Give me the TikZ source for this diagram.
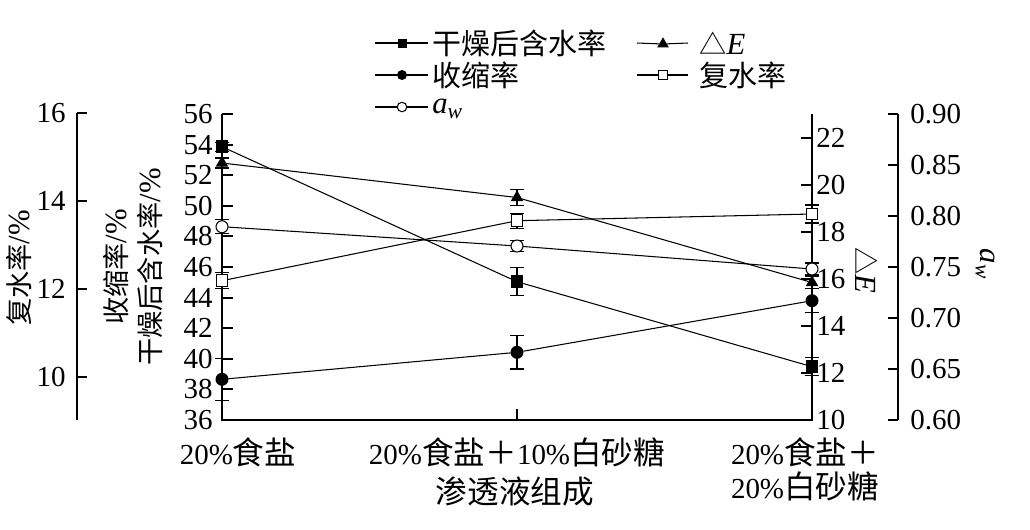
\documentclass[tikz,border=0pt]{standalone}
\usepackage{fontspec}
\setmainfont{Liberation Serif}
\newfontfamily\cjk{Noto Sans CJK SC}
\usetikzlibrary{shapes.geometric}
\newcommand\zh[1]{{\cjk #1}}
\newcommand\zhs[1]{{\cjk\fontsize{15.5}{19}\selectfont #1}}
\newcommand\zhb[1]{{\cjk\fontsize{18}{20}\selectfont #1}}

\begin{document}
\begin{tikzpicture}[x=0.02cm,y=-0.02cm,
    ax/.style={line width=1.1pt},
    dline/.style={line width=0.6pt},
    ebar/.style={line width=0.6pt},
    mk/.style={inner sep=0pt,outer sep=0pt},
    fsq/.style={mk,rectangle,fill=black,minimum size=0.25cm},
    osq/.style={mk,rectangle,draw,fill=white,line width=0.6pt,minimum size=0.23cm},
    fci/.style={mk,circle,fill=black,minimum size=0.26cm},
    oci/.style={mk,circle,draw,fill=white,line width=0.6pt,minimum size=0.24cm},
    ftri/.style={mk,regular polygon,regular polygon sides=3,fill=black,minimum size=0.29cm},
    tick/.style={inner sep=0pt,font=\fontsize{16.5}{19.5}\selectfont},
    lab/.style={inner sep=0pt,font=\fontsize{16.5}{19.3}\selectfont},
    ttl/.style={inner sep=0pt,font=\fontsize{17.5}{19.3}\selectfont}]
  \useasboundingbox (0,0) rectangle (1030,529);

  % axes
  \draw[ax] (77,113) -- (77,420);
  \draw[ax] (222,114) -- (222,420) -- (812,420) -- (812,114);
  \draw[ax] (517,420) -- ++(0,-11);
  \draw[ax] (898,114) -- (898,420);
  \foreach \v in {10,12,14,16} {
    \draw[ax] (77,{377-(\v-10)*44}) -- ++(10,0);
    \node[tick,anchor=east] (yr\v) at (66,{377-(\v-10)*44}) {\v};}
  \foreach \v in {36,38,...,56} {
    \draw[ax] (222,{420-(\v-36)*15.3}) -- ++(11,0);
    \node[tick,anchor=east] (ym\v) at (213,{420-(\v-36)*15.3}) {\v};}
  \foreach \v in {10,12,...,22} {
    \draw[ax] (812,{420-(\v-10)*23.5}) -- ++(-11,0);
    \node[tick,anchor=west] (ye\v) at (816,{420-(\v-10)*23.5}) {\v};}
  \foreach \v [count=\i] in {0.60,0.65,0.70,0.75,0.80,0.85,0.90} {
    \draw[ax] (898,{420-(\v-0.6)*1020}) -- ++(-10,0);
    \node[tick,anchor=west] (yw\i) at (910,{420-(\v-0.6)*1020}) {\v};}

  % axis titles
  \node[ttl,rotate=90] (tr) at (19,268) {\zhs{复水率}/\%};
  \node[ttl,rotate=90,align=center] (tm) at (133,267)
       {\zhs{收缩率}/\%\\\zhs{干燥后含水率}/\%};
  \node[ttl,rotate=-90] (te) at (867,270) {\zhs{△}\textit{E}};
  \node[ttl,rotate=-90] (tw) at (985,264) {\textit{a}\textsubscript{\textit{w}}};
  \node[tick] (c1) at (238,452) {20\%\zhb{食盐}};
  \node[tick] (c2) at (517,452) {20\%\zhb{食盐＋}10\%\zhb{白砂糖}};
  \node[tick,align=center] (c3) at (805,469) {20\%\zhb{食盐＋}\\20\%\zhb{白砂糖}};
  \node[lab] (cx) at (515,492) {\zhb{渗透液组成}};

  % points and error bars
  \foreach \n/\px/\py/\e in {pw1/222/146.7/4.5, pw2/517/281.7/14, pw3/812/366.7/9,
      ps1/222/379.3/21, ps2/517/352.3/16.7, ps3/812/300.7/12,
      pd1/222/163/5, pd2/517/197.5/8, pd3/812/282.5/6,
      pr1/222/280.7/8, pr2/517/220.7/7.5, pr3/812/214/9,
      pa1/222/226.7/7, pa2/517/246/5.5, pa3/812/269/6} {
    \coordinate (\n) at (\px,\py);
    \draw[ebar] (\n) ++(-7,-\e) -- ++(14,0) ++(-7,0) -- ++(0,{2*\e}) ++(-7,0) -- ++(14,0);}

  % markers
  \foreach \i in {1,2,3} {
    \node[fsq] (w\i) at (pw\i) {};
    \node[fci] (s\i) at (ps\i) {};
    \node[ftri] (d\i) at (pd\i) {};
    \node[osq] (r\i) at (pr\i) {};
    \node[oci] (a\i) at (pa\i) {};}
  \draw[dline] (w1) -- (w2) -- (w3);
  \draw[dline] (s1) -- (s2) -- (s3);
  \draw[dline] (d1) -- (d2) -- (d3);
  \draw[dline] (r1) -- (r2) -- (r3);
  \draw[dline] (a1) -- (a2) -- (a3);

  % legend
  \coordinate (k1a) at (375,43); \coordinate (k1b) at (428,43);
  \node[fsq,minimum size=0.18cm] (k1) at (402,43) {};
  \draw[dline] (k1a) -- (k1) -- (k1b);
  \node[lab,anchor=west] (l1) at (432,43) {\zh{干燥后含水率}};

  \coordinate (k2a) at (637,43); \coordinate (k2b) at (688,43);
  \node[ftri,minimum size=0.27cm] (k2) at (663,44) {};
  \draw[dline] (k2a) -- (k2) -- (k2b);
  \node[ttl,anchor=west] (l2) at (699,43) {\zhs{△}\textit{E}};

  \coordinate (k3a) at (375,75); \coordinate (k3b) at (428,75);
  \node[fci,minimum size=0.2cm] (k3) at (402,75) {};
  \draw[dline] (k3a) -- (k3) -- (k3b);
  \node[lab,anchor=west] (l3) at (432,75) {\zh{收缩率}};

  \coordinate (k4a) at (637,75); \coordinate (k4b) at (688,75);
  \node[osq,minimum size=0.18cm] (k4) at (663,75) {};
  \draw[dline] (k4a) -- (k4) -- (k4b);
  \node[lab,anchor=west] (l4) at (699,75) {\zh{复水率}};

  \coordinate (k5a) at (375,107); \coordinate (k5b) at (428,107);
  \node[oci,minimum size=0.19cm] (k5) at (402,107) {};
  \draw[dline] (k5a) -- (k5) -- (k5b);
  \node[ttl,anchor=west] (l5) at (432,109) {\textit{a}\textsubscript{\textit{w}}};
\end{tikzpicture}
\end{document}
